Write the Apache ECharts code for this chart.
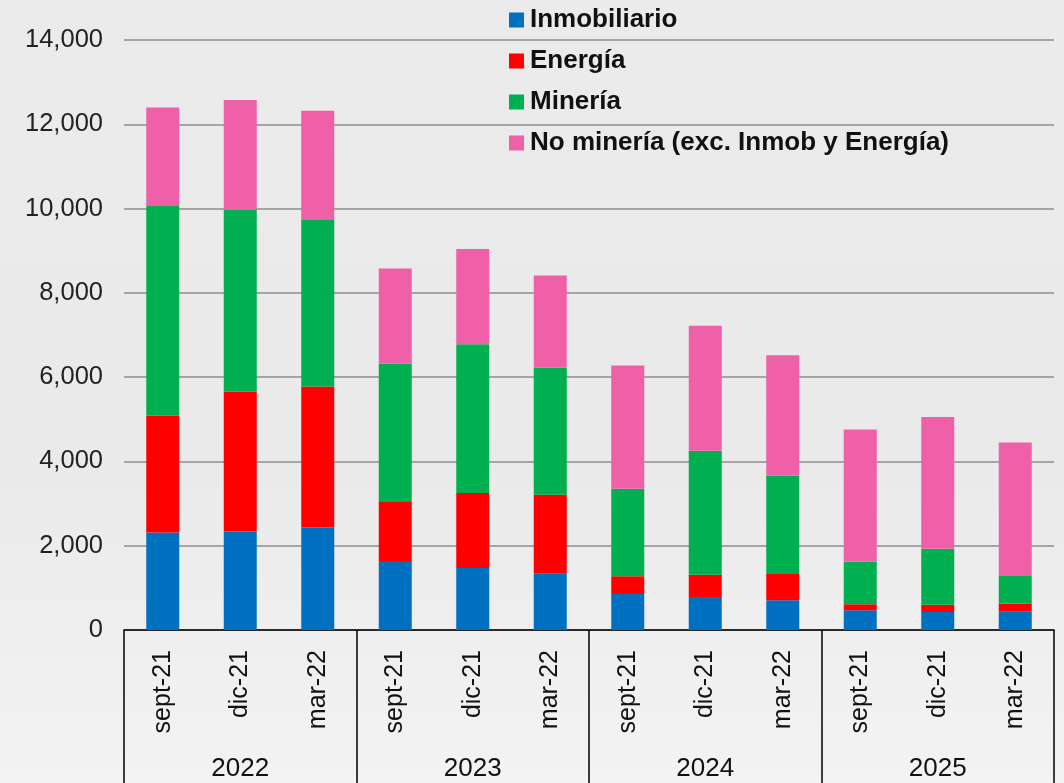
<!DOCTYPE html>
<html>
<head>
<meta charset="utf-8">
<script src="https://cdn.jsdelivr.net/npm/echarts@6/dist/echarts.min.js"></script>
<style>
  html, body { margin: 0; padding: 0; }
  #chart { width: 1064px; height: 783px; }
</style>
</head>
<body>
<div id="chart"></div>
<script>
// Quarter labels, repeated inside each year group
const months = ['sept-21', 'dic-21', 'mar-22', 'sept-21', 'dic-21', 'mar-22',
                'sept-21', 'dic-21', 'mar-22', 'sept-21', 'dic-21', 'mar-22'];
const years = ['2022', '2023', '2024', '2025'];

// Stacked components per quarter
const inmobiliario = [2313, 2338, 2431, 1637, 1471, 1336, 854, 783, 704, 467, 428, 436];
const energia      = [2770, 3320, 3346, 1399, 1779, 1874, 419, 530, 625, 143, 174, 190];
const mineria      = [4976, 4317, 3952, 3280, 3532, 3011, 2079, 2940, 2331, 1011, 1327, 655];
const noMineria    = [2339, 2600, 2592, 2261, 2259, 2190, 2925, 2964, 2861, 3137, 3126, 3169];

const seriesNames = ['Inmobiliario', 'Energía', 'Minería', 'No minería (exc. Inmob y Energía)'];
const seriesData = [inmobiliario, energia, mineria, noMineria];
const seriesColors = ['#0070c0', '#ff0000', '#00b050', '#ef60a8'];

const yTicks = { min: 0, max: 14000, interval: 2000 };

const font = '"Liberation Sans", Arial, sans-serif';
const chart = echarts.init(document.getElementById('chart'));

chart.setOption({
  backgroundColor: {
    type: 'linear', x: 0, y: 0, x2: 0, y2: 1,
    colorStops: [
      { offset: 0, color: '#ebebeb' },
      { offset: 0.6, color: '#eaeaea' },
      { offset: 1, color: '#f3f3f3' }
    ]
  },
  animation: false,
  textStyle: { fontFamily: font },
  legend: {
    orient: 'vertical',
    left: 504,
    top: 2,
    itemWidth: 15,
    itemHeight: 15,
    itemGap: 15,
    icon: 'rect',
    data: seriesNames,
    textStyle: {
      fontFamily: font, fontSize: 26, lineHeight: 26, fontWeight: 'bold',
      color: '#111', padding: [0, 0, 0, 1]
    }
  },
  grid: { left: 124, right: 10, top: 40, bottom: 153, containLabel: false },
  xAxis: [
    {
      type: 'category',
      data: months,
      position: 'bottom',
      axisLine: { show: true, lineStyle: { color: '#000', width: 1.5 } },
      axisTick: { show: false },
      axisLabel: { rotate: 90, margin: 20, fontSize: 25, color: '#111', fontFamily: font, interval: 0 }
    },
    {
      type: 'category',
      data: years,
      position: 'bottom',
      axisLine: { show: false },
      axisTick: { show: true, length: 160, interval: 0, lineStyle: { color: '#000', width: 1.5 } },
      axisLabel: { margin: 126, fontSize: 26, color: '#111', fontFamily: font, interval: 0 },
      splitLine: { show: false }
    }
  ],
  yAxis: {
    type: 'value',
    min: yTicks.min,
    max: yTicks.max,
    interval: yTicks.interval,
    axisLine: { show: false },
    axisTick: { show: false },
    axisLabel: {
      fontSize: 25.5, color: '#222', margin: 21, fontFamily: font,
      formatter: v => v.toLocaleString('en-US')
    },
    splitLine: { lineStyle: { color: '#a5a5a5', width: 2 } }
  },
  series: seriesNames.map((name, i) => ({
    name,
    type: 'bar',
    stack: 'total',
    barWidth: 33,
    xAxisIndex: 0,
    itemStyle: { color: seriesColors[i] },
    data: seriesData[i]
  }))
});
</script>
</body>
</html>
